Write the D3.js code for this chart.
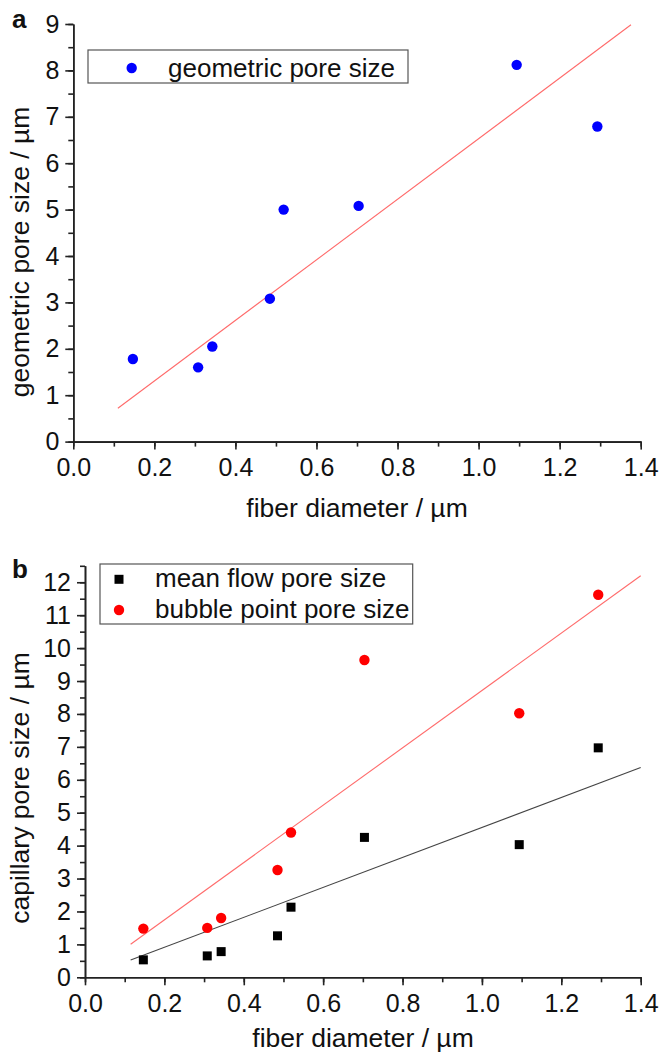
<!DOCTYPE html>
<html>
<head>
<meta charset="utf-8">
<script src="https://cdn.jsdelivr.net/npm/d3@7"></script>
<style>
  html, body { margin: 0; padding: 0; background: #fff; }
  svg { display: block; font-family: "Liberation Sans", Arial, sans-serif; }
  .axis path, .axis line { stroke: #222; stroke-width: 1.6px; }
  .axis text { fill: #111; font-size: 25px; font-family: "Liberation Sans", Arial, sans-serif; }
</style>
</head>
<body>
<svg id="fig" width="660" height="1054"></svg>
<script>
// Fiber diameter of each sample (µm)
const fiberDiameter = [0.147, 0.308, 0.343, 0.485, 0.519, 0.704, 1.094, 1.293];
// Panel a: geometric pore size (µm)
const geometricPore = [1.78, 1.60, 2.05, 3.08, 5.00, 5.08, 8.12, 6.79];
// Panel b: capillary flow porometry (µm)
const meanFlowPore = [0.53, 0.65, 0.78, 1.26, 2.13, 4.25, 4.03, 6.97];
const bubblePointPore = [1.48, 1.50, 1.80, 3.26, 4.40, 9.64, 8.02, 11.62];

// Axis ticks
const xTicks = [0, 0.2, 0.4, 0.6, 0.8, 1.0, 1.2, 1.4];
const yTicksA = [0, 1, 2, 3, 4, 5, 6, 7, 8, 9];
const yTicksB = [0, 1, 2, 3, 4, 5, 6, 7, 8, 9, 10, 11, 12];

// Extent over which each proportional fit line is drawn
const fitRangeA = [0.11, 1.376];
const fitRangeB = [0.115, 1.40];

const legendA = ["geometric pore size"];
const legendB = ["mean flow pore size", "bubble point pore size"];

const svg = d3.select("#fig");

// Least-squares slope of a line through the origin
function originSlope(xs, ys) {
  const sxy = d3.sum(xs, (x, i) => x * ys[i]);
  const sxx = d3.sum(xs, x => x * x);
  return sxy / sxx;
}

function range(a, b, step) {
  const out = [];
  for (let v = a; v <= b + 1e-9; v += step) out.push(+v.toFixed(4));
  return out;
}

function drawAxes(g, x, y, yTicks, yMax) {
  const [y0] = y.range();
  const [x0] = x.range();
  // minor ticks
  g.append("g").attr("class", "axis")
    .attr("transform", `translate(0,${y0})`)
    .call(d3.axisBottom(x).tickValues(range(0, 1.4, 0.1)).tickSize(5).tickSizeOuter(0).tickFormat(""));
  g.append("g").attr("class", "axis")
    .attr("transform", `translate(${x0},0)`)
    .call(d3.axisLeft(y).tickValues(range(0, yMax, 0.5)).tickSize(5).tickSizeOuter(0).tickFormat(""));
  // major ticks
  g.append("g").attr("class", "axis")
    .attr("transform", `translate(0,${y0})`)
    .call(d3.axisBottom(x).tickValues(xTicks).tickSize(8).tickSizeOuter(0)
      .tickPadding(9).tickFormat(d3.format(".1f")));
  g.append("g").attr("class", "axis")
    .attr("transform", `translate(${x0},0)`)
    .call(d3.axisLeft(y).tickValues(yTicks).tickSize(8).tickSizeOuter(0)
      .tickPadding(6).tickFormat(d3.format("d")));
}

function fitLine(g, x, y, xs, ys, rng, color) {
  const k = originSlope(xs, ys);
  g.append("line")
    .attr("x1", x(rng[0])).attr("y1", y(k * rng[0]))
    .attr("x2", x(rng[1])).attr("y2", y(k * rng[1]))
    .attr("stroke", color).attr("stroke-width", 1.1);
}

// ---------- Panel a ----------
{
  const g = svg.append("g");
  const x = d3.scaleLinear().domain([0, 1.4]).range([73.3, 640.7]);
  const y = d3.scaleLinear().domain([0, 9]).range([441.6, 24]);

  fitLine(g, x, y, fiberDiameter, geometricPore, fitRangeA, "#ff6b6b");
  drawAxes(g, x, y, yTicksA, 9);

  g.append("g").selectAll("circle")
    .data(fiberDiameter.map((d, i) => [d, geometricPore[i]]))
    .join("circle")
    .attr("cx", d => x(d[0])).attr("cy", d => y(d[1]))
    .attr("r", 5.2).attr("fill", "#0000ff");

  // legend
  const lg = g.append("g");
  lg.append("rect").attr("x", 88).attr("y", 50).attr("width", 320).attr("height", 33)
    .attr("fill", "none").attr("stroke", "#555").attr("stroke-width", 1.2);
  lg.append("circle").attr("cx", 131.7).attr("cy", 68).attr("r", 5.2).attr("fill", "#0000ff");
  lg.append("text").attr("x", 168).attr("y", 77).attr("font-size", 26).attr("fill", "#111")
    .text(legendA[0]);

  g.append("text").attr("x", 357).attr("y", 517).attr("text-anchor", "middle")
    .attr("font-size", 26.5).attr("fill", "#111").text("fiber diameter / µm");
  g.append("text").attr("transform", "translate(29,252) rotate(-90)").attr("text-anchor", "middle")
    .attr("font-size", 26.5).attr("fill", "#111").text("geometric pore size / µm");
  g.append("text").attr("x", 12).attr("y", 28).attr("font-size", 26).attr("font-weight", "bold")
    .attr("fill", "#111").text("a");
}

// ---------- Panel b ----------
{
  const g = svg.append("g");
  const x = d3.scaleLinear().domain([0, 1.4]).range([85, 640.7]);
  const y = d3.scaleLinear().domain([0, 12.5]).range([977.3, 565.8]);

  fitLine(g, x, y, fiberDiameter, bubblePointPore, fitRangeB, "#ff6b6b");
  fitLine(g, x, y, fiberDiameter, meanFlowPore, fitRangeB, "#444");
  drawAxes(g, x, y, yTicksB, 12.5);

  const sq = 9;
  g.append("g").selectAll("rect")
    .data(fiberDiameter.map((d, i) => [d, meanFlowPore[i]]))
    .join("rect")
    .attr("x", d => x(d[0]) - sq / 2).attr("y", d => y(d[1]) - sq / 2)
    .attr("width", sq).attr("height", sq).attr("fill", "#000");

  g.append("g").selectAll("circle")
    .data(fiberDiameter.map((d, i) => [d, bubblePointPore[i]]))
    .join("circle")
    .attr("cx", d => x(d[0])).attr("cy", d => y(d[1]))
    .attr("r", 5.2).attr("fill", "#ff0000");

  // legend
  const lg = g.append("g");
  lg.append("rect").attr("x", 100).attr("y", 564).attr("width", 312.7).attr("height", 60)
    .attr("fill", "none").attr("stroke", "#555").attr("stroke-width", 1.2);
  lg.append("rect").attr("x", 119 - sq / 2).attr("y", 579.3 - sq / 2)
    .attr("width", sq).attr("height", sq).attr("fill", "#000");
  lg.append("circle").attr("cx", 119).attr("cy", 610).attr("r", 5.2).attr("fill", "#ff0000");
  lg.append("text").attr("x", 155).attr("y", 587).attr("font-size", 26).attr("fill", "#111")
    .text(legendB[0]);
  lg.append("text").attr("x", 155).attr("y", 618).attr("font-size", 26).attr("fill", "#111")
    .text(legendB[1]);

  g.append("text").attr("x", 363).attr("y", 1047).attr("text-anchor", "middle")
    .attr("font-size", 26.5).attr("fill", "#111").text("fiber diameter / µm");
  g.append("text").attr("transform", "translate(29,788) rotate(-90)").attr("text-anchor", "middle")
    .attr("font-size", 26.5).attr("fill", "#111").text("capillary pore size / µm");
  g.append("text").attr("x", 12).attr("y", 578).attr("font-size", 26).attr("font-weight", "bold")
    .attr("fill", "#111").text("b");
}
</script>
</body>
</html>
